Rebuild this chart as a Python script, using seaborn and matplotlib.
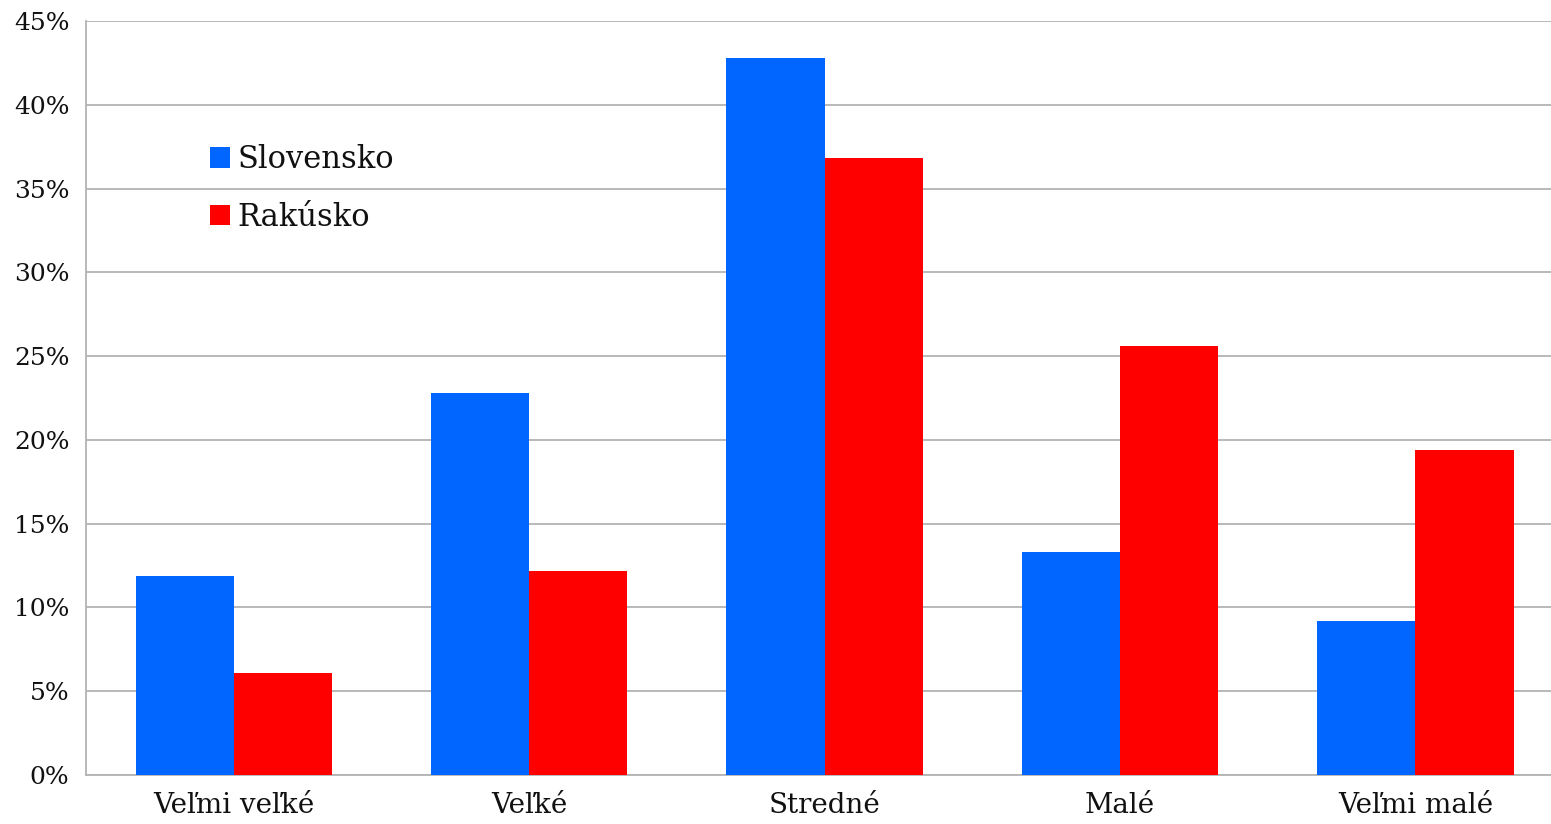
import pandas as pd
import numpy as np
import matplotlib.pyplot as plt
import seaborn as sns
from matplotlib.ticker import PercentFormatter, FixedLocator

categories = ['Veľmi veľké', 'Veľké', 'Stredné', 'Malé', 'Veľmi malé']
slovensko = [11.9, 22.8, 42.8, 13.3, 9.2]
rakusko = [6.1, 12.2, 36.8, 25.6, 19.4]
series_names = ['Slovensko', 'Rakúsko']
colors = ['#0066ff', '#ff0000']

df = pd.DataFrame({
    'kategoria': categories * 2,
    'krajina': [series_names[0]] * len(categories) + [series_names[1]] * len(categories),
    'hodnota': slovensko + rakusko,
})

sns.set_style('white')
plt.rcParams['font.family'] = ['DejaVu Serif']
plt.rcParams['text.color'] = '#111111'
plt.rcParams['xtick.labelcolor'] = '#111111'
plt.rcParams['ytick.labelcolor'] = '#111111'

fig = plt.figure(figsize=(15.51, 8.24), dpi=100)
# axes runs slightly past the right edge, like the original export
ax = fig.add_axes([0.0555, 0.0595, 0.9523, 0.915])

sns.barplot(data=df, x='kategoria', y='hodnota', hue='krajina', order=categories,
            hue_order=series_names, palette=colors, width=0.665, saturation=1,
            edgecolor='none', linewidth=0, ax=ax, zorder=3)

ax.set_ylim(0, 45)
ax.set_xlim(-0.5, len(categories) - 0.5)
ax.set_yticks(np.arange(0, 46, 5))
ax.yaxis.set_major_formatter(PercentFormatter(decimals=0))
ax.grid(axis='y', color='#b3b3b3', linewidth=1.3, zorder=0)
ax.set_axisbelow(True)

for s in ['top', 'right']:
    ax.spines[s].set_visible(False)
for s in ['left', 'bottom']:
    ax.spines[s].set_color('#b3b3b3')
    ax.spines[s].set_linewidth(1.3)

ax.set_xlabel('')
ax.set_ylabel('')
ax.tick_params(axis='y', length=8, color='#b3b3b3', width=1.3, labelsize=18, pad=4)
ax.tick_params(axis='x', which='major', length=0, labelsize=20, pad=12)
ax.xaxis.set_minor_locator(FixedLocator(np.arange(-0.5, len(categories), 1.0)))
ax.tick_params(axis='x', which='minor', length=8, color='#b3b3b3', width=1.3)

leg = ax.legend(loc='upper left', bbox_to_anchor=(0.0756, 0.853), frameon=False,
                fontsize=22, handlelength=0.65, handleheight=0.65, handletextpad=0.25,
                labelspacing=0.88, borderaxespad=0)

fig.savefig('out.png', dpi=100)
